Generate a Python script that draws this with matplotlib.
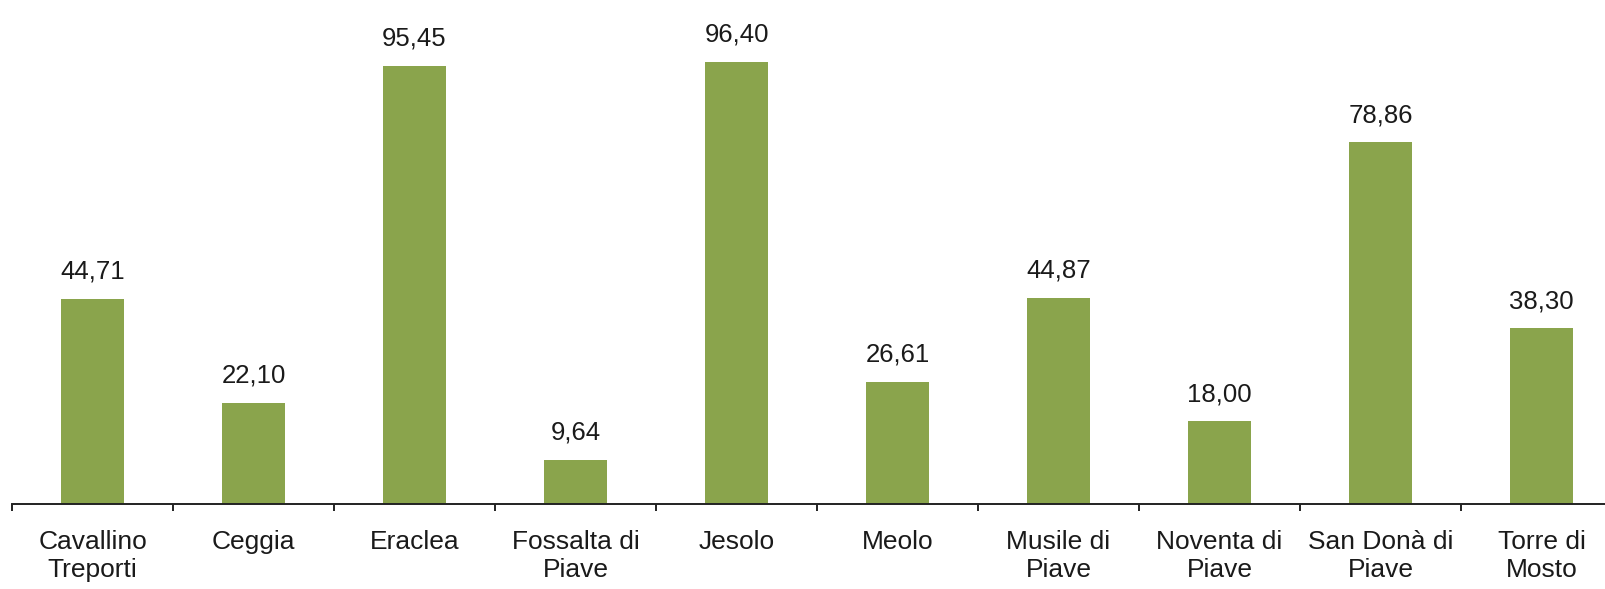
import matplotlib
matplotlib.use("Agg")
import matplotlib.pyplot as plt

categories = ["Cavallino\nTreporti", "Ceggia", "Eraclea", "Fossalta di\nPiave", "Jesolo",
              "Meolo", "Musile di\nPiave", "Noventa di\nPiave", "San Donà di\nPiave", "Torre di\nMosto"]
values = [44.71, 22.10, 95.45, 9.64, 96.40, 26.61, 44.87, 18.00, 78.86, 38.30]
value_labels = ["44,71", "22,10", "95,45", "9,64", "96,40", "26,61", "44,87", "18,00", "78,86", "38,30"]

plt.rcParams['font.family'] = ['Liberation Sans', 'DejaVu Sans']

W, H = 1605, 589
fig = plt.figure(figsize=(W / 100, H / 100), dpi=100)
ax_left = 12 / W
ax_bottom = (H - 504) / H
ax = fig.add_axes([ax_left, ax_bottom, 1610 / W, 504 / H])

x = list(range(len(categories)))
ax.bar(x, values, width=0.39, color="#8AA44C", zorder=2)
for xi, v, lab in zip(x, values, value_labels):
    ax.annotate(lab, (xi, v), xytext=(0, 11), textcoords="offset points",
                ha="center", va="bottom", fontsize=18.5, color="#1a1a1a")

ax.set_xlim(-0.5, len(categories) - 0.5)
ax.set_ylim(0, 109.9)
for s in ["top", "left", "right"]:
    ax.spines[s].set_visible(False)
ax.spines["bottom"].set_linewidth(1.4)
ax.spines["bottom"].set_color("#222222")
ax.set_yticks([])

ax.set_xticks([i - 0.5 for i in range(len(categories) + 1)])
ax.set_xticklabels([])
ax.tick_params(axis="x", which="major", length=5, width=1.4, color="#222222", direction="out")
ax.set_xticks(x, minor=True)
ax.set_xticklabels(categories, minor=True, fontsize=19, color="#1a1a1a", linespacing=1.2)
ax.tick_params(axis="x", which="minor", length=0, pad=19)

fig.savefig("out.png", dpi=100)
